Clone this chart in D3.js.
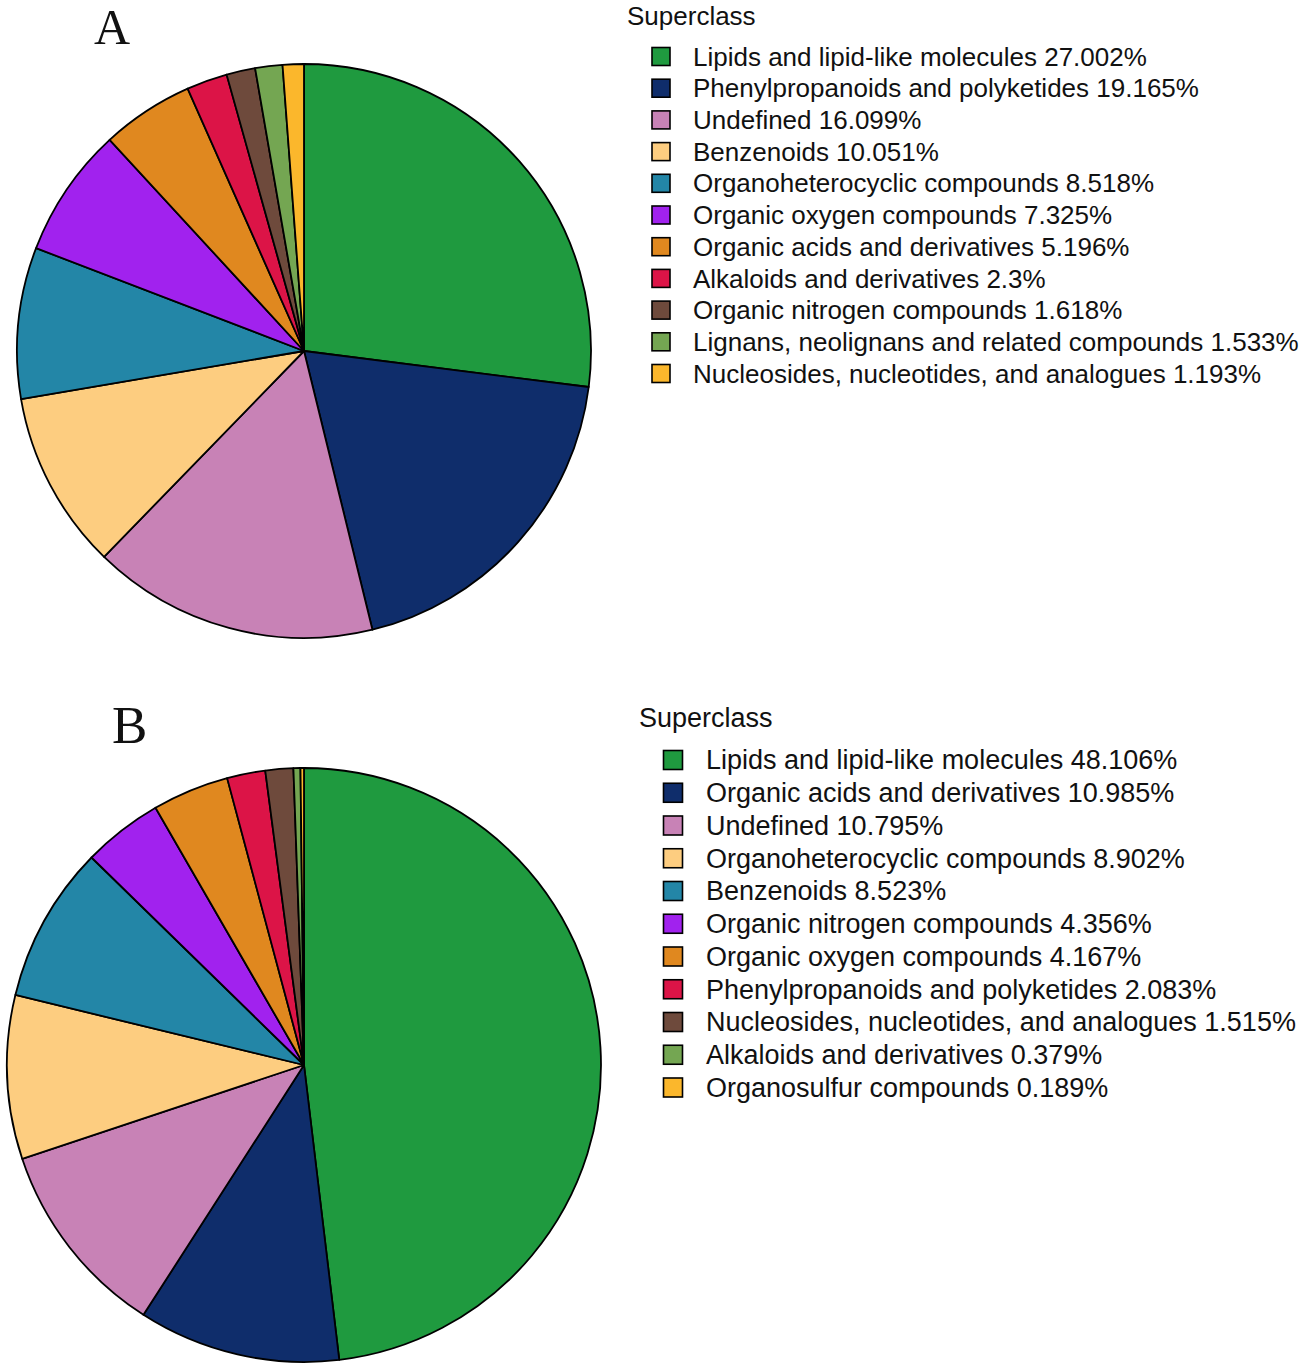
<!DOCTYPE html>
<html>
<head>
<meta charset="utf-8">
<script src="https://cdn.jsdelivr.net/npm/d3@7/dist/d3.min.js"></script>
<style>
  html, body { margin: 0; padding: 0; background: #fff; }
  svg { display: block; }
</style>
</head>
<body>
<svg id="chart" width="1299" height="1368"></svg>
<script>
// Panel A data
const categoriesA = [
  "Lipids and lipid-like molecules",
  "Phenylpropanoids and polyketides",
  "Undefined",
  "Benzenoids",
  "Organoheterocyclic compounds",
  "Organic oxygen compounds",
  "Organic acids and derivatives",
  "Alkaloids and derivatives",
  "Organic nitrogen compounds",
  "Lignans, neolignans and related compounds",
  "Nucleosides, nucleotides, and analogues"
];
const valuesA = [27.002, 19.165, 16.099, 10.051, 8.518, 7.325, 5.196, 2.3, 1.618, 1.533, 1.193];

// Panel B data
const categoriesB = [
  "Lipids and lipid-like molecules",
  "Organic acids and derivatives",
  "Undefined",
  "Organoheterocyclic compounds",
  "Benzenoids",
  "Organic nitrogen compounds",
  "Organic oxygen compounds",
  "Phenylpropanoids and polyketides",
  "Nucleosides, nucleotides, and analogues",
  "Alkaloids and derivatives",
  "Organosulfur compounds"
];
const valuesB = [48.106, 10.985, 10.795, 8.902, 8.523, 4.356, 4.167, 2.083, 1.515, 0.379, 0.189];

// Colours by slice position
const palette = ["#1f9a3f", "#0f2d6b", "#c882b6", "#fdcd80", "#2386a7", "#a122ee",
                 "#e0881f", "#dc1447", "#6e4a3c", "#74a652", "#fbb72c"];

const legendTitle = "Superclass";
const panelLabels = ["A", "B"];

const svg = d3.select("#chart");

function drawPanel(cfg) {
  const data = cfg.categories.map((c, i) => ({ name: c, value: cfg.values[i], idx: i }));
  const color = d3.scaleOrdinal().domain(d3.range(data.length)).range(palette);

  const pie = d3.pie().value(d => d.value).sort(null);
  const arc = d3.arc().innerRadius(0).outerRadius(cfg.r);

  const g = svg.append("g").attr("transform", `translate(${cfg.cx},${cfg.cy})`);
  g.selectAll("path")
    .data(pie(data))
    .join("path")
    .attr("d", arc)
    .attr("fill", d => color(d.data.idx))
    .attr("stroke", "#000")
    .attr("stroke-width", 1.8)
    .attr("stroke-linejoin", "round");

  // panel label
  svg.append("text")
    .attr("x", cfg.labelX)
    .attr("y", cfg.labelY)
    .attr("font-family", "'Liberation Serif', 'DejaVu Serif', serif")
    .attr("font-size", cfg.labelFs)
    .attr("fill", "#111")
    .text(cfg.label);

  // legend
  const lg = svg.append("g").attr("transform", `translate(${cfg.legX},${cfg.legY})`);
  lg.append("text")
    .attr("x", 0)
    .attr("y", 0)
    .attr("dy", "0.35em")
    .attr("font-family", "'Liberation Sans', Arial, sans-serif")
    .attr("font-size", cfg.fs)
    .attr("fill", "#111")
    .text(legendTitle);

  const y = d3.scaleLinear().domain([0, 1]).range([cfg.firstRow, cfg.firstRow + cfg.rowStep]);
  const items = lg.selectAll("g.item")
    .data(data)
    .join("g")
    .attr("class", "item")
    .attr("transform", d => `translate(0,${y(d.idx)})`);
  items.append("rect")
    .attr("x", cfg.sqX - cfg.sq / 2)
    .attr("y", -cfg.sq / 2)
    .attr("width", cfg.sq)
    .attr("height", cfg.sq)
    .attr("fill", d => color(d.idx))
    .attr("stroke", "#000")
    .attr("stroke-width", 1.6);
  items.append("text")
    .attr("x", cfg.textX)
    .attr("y", 0)
    .attr("dy", "0.35em")
    .attr("font-family", "'Liberation Sans', Arial, sans-serif")
    .attr("font-size", cfg.fs)
    .attr("fill", "#111")
    .text(d => `${d.name} ${d.value}%`);
}

drawPanel({
  categories: categoriesA, values: valuesA, label: panelLabels[0],
  cx: 304, cy: 351, r: 287,
  labelX: 94, labelY: 44, labelFs: 50,
  legX: 627, legY: 16, fs: 26,
  firstRow: 40.5, rowStep: 31.7, sq: 18, sqX: 34, textX: 66
});

drawPanel({
  categories: categoriesB, values: valuesB, label: panelLabels[1],
  cx: 304, cy: 1065, r: 297,
  labelX: 112, labelY: 743, labelFs: 53,
  legX: 639, legY: 718, fs: 27,
  firstRow: 42, rowStep: 32.75, sq: 19, sqX: 34, textX: 67
});
</script>
</body>
</html>
